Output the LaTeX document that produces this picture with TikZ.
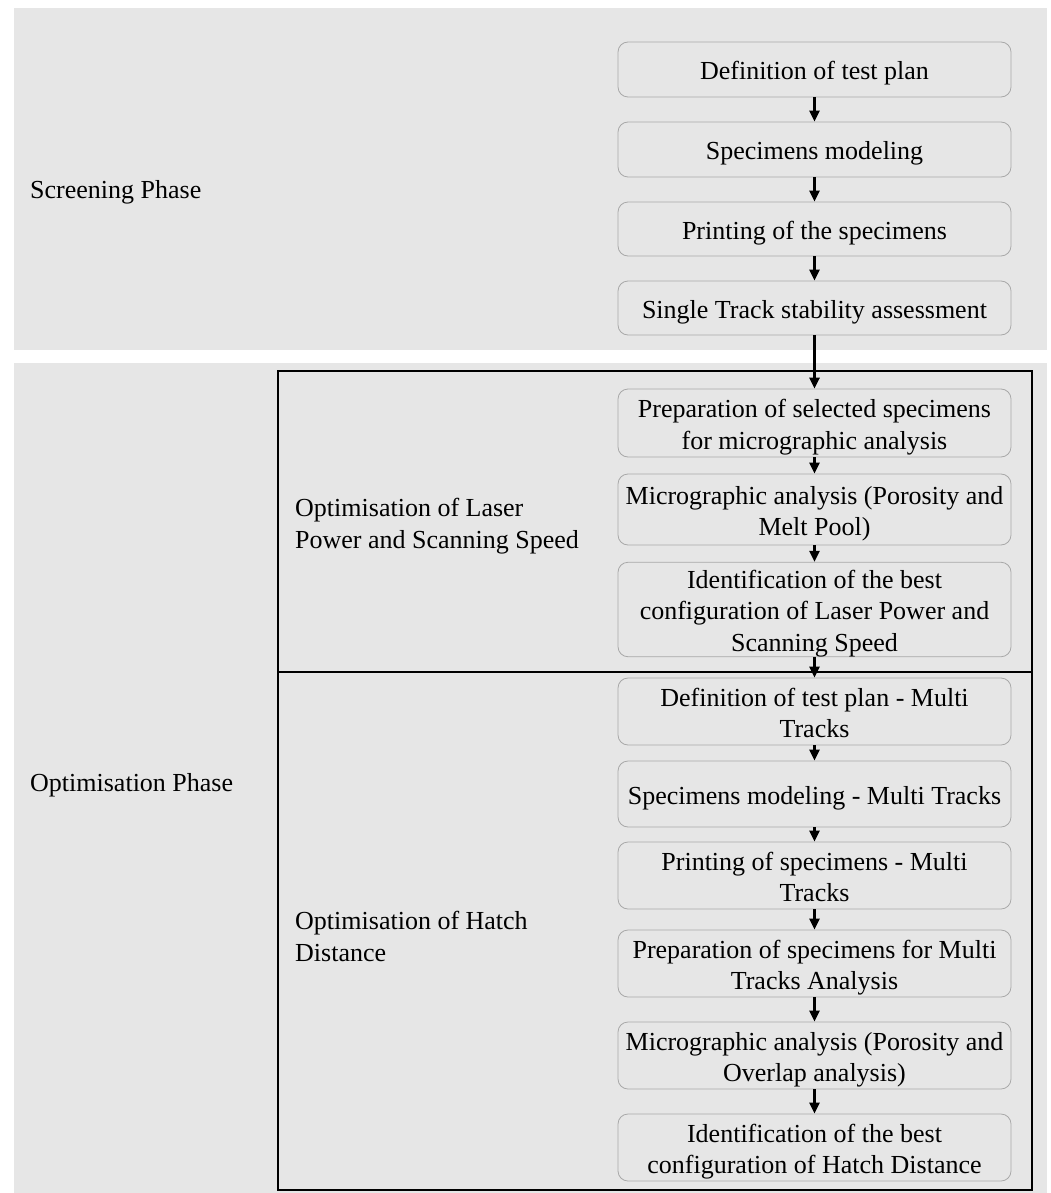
\documentclass[tikz,border=0pt]{standalone}
\usepackage{fontspec}
\setmainfont{Liberation Serif}
\usetikzlibrary{arrows.meta}
\definecolor{panelgray}{HTML}{E6E6E6}
\definecolor{boxline}{HTML}{A8A8A8}
\newcommand{\bxtext}[1]{\raisebox{-4pt}[\height][\depth]{\begin{tabular}{@{}c@{}}#1\end{tabular}}}
\tikzset{
  stepbox/.style={draw=boxline, line width=0.8pt, fill=panelgray, rounded corners=10pt,
    minimum width=393pt, inner sep=0pt,
    font=\fontsize{26}{31.5}\selectfont},
  lbl/.style={anchor=west, align=left, inner sep=0pt, font=\fontsize{26}{32}\selectfont},
  flow/.style={line width=2.4pt, -{Triangle[length=11pt,width=10pt]}},
  flowthick/.style={line width=3.2pt, -{Triangle[length=11pt,width=10pt]}},
  frame/.style={line width=1.5pt, draw=black}
}
\begin{document}
\begin{tikzpicture}[x=1pt,y=-1pt]
\useasboundingbox (0,0) rectangle (1051,1193);
\fill[white] (0,0) rectangle (1051,1193);
\fill[panelgray] (14,8) rectangle (1047,350);
\fill[panelgray] (14,363) rectangle (1047,1193);
\draw[frame] (278,371) rectangle (1032,1190);
\draw[frame] (278,672) -- (1032,672);

\node[lbl] (screen) at (30,192) {Screening Phase};
\node[lbl] (optph) at (30,785) {Optimisation Phase};
\node[lbl] (laser) at (295,526) {Optimisation of Laser\\Power and Scanning Speed};
\node[lbl] (hatch) at (295,936) {Optimisation of Hatch\\Distance};

\node[stepbox, minimum height=55pt] (s1) at (814.5,69.5) {\bxtext{Definition of test plan}};
\node[stepbox, minimum height=55pt] (s2) at (814.5,149.5) {\bxtext{Specimens modeling}};
\node[stepbox, minimum height=54pt] (s3) at (814.5,229) {\bxtext{Printing of the specimens}};
\node[stepbox, minimum height=54pt] (s4) at (814.5,308) {\bxtext{Single Track stability assessment}};

\node[stepbox, minimum height=68pt] (o1) at (814.5,423) {\bxtext{Preparation of selected specimens\\for micrographic analysis}};
\node[stepbox, minimum height=71pt] (o2) at (814.5,509.5) {\bxtext{Micrographic analysis (Porosity and\\Melt Pool)}};
\node[stepbox, minimum height=93pt] (o3) at (814.5,609.5) {\bxtext{Identification of the best\\configuration of Laser Power and\\Scanning Speed}};

\node[stepbox, minimum height=67pt] (h1) at (814.5,711.5) {\bxtext{Definition of test plan - Multi\\Tracks}};
\node[stepbox, minimum height=66pt] (h2) at (814.5,794) {\bxtext{Specimens modeling - Multi Tracks}};
\node[stepbox, minimum height=67pt] (h3) at (814.5,875.5) {\bxtext{Printing of specimens - Multi\\Tracks}};
\node[stepbox, minimum height=67pt] (h4) at (814.5,963.5) {\bxtext{Preparation of specimens for Multi\\Tracks Analysis}};
\node[stepbox, minimum height=67pt] (h5) at (814.5,1055.5) {\bxtext{Micrographic analysis (Porosity and\\Overlap analysis)}};
\node[stepbox, minimum height=67pt] (h6) at (814.5,1147.5) {\bxtext{Identification of the best\\configuration of Hatch Distance}};

\draw[flow] (s1) -- (s2);
\draw[flow] (s2) -- (s3);
\draw[flow] (s3) -- (s4);
\draw[flowthick] (s4) -- (o1);
\draw[flow] (o1) -- (o2);
\draw[flow] (o2) -- (o3);
\draw[flow] (o3) -- (h1);
\draw[flow] (h1) -- (h2);
\draw[flow] (h2) -- (h3);
\draw[flow] (h3) -- (h4);
\draw[flow] (h4) -- (h5);
\draw[flow] (h5) -- (h6);
\end{tikzpicture}
\end{document}
